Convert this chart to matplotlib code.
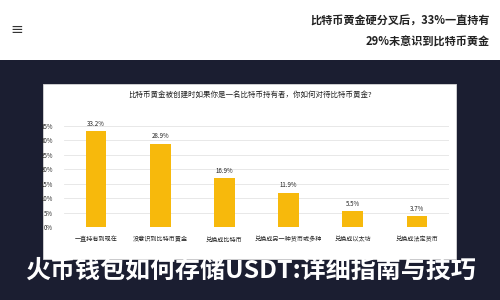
import matplotlib.pyplot as plt
from matplotlib.patches import Rectangle
from matplotlib.ticker import FuncFormatter

plt.rcParams['font.family'] = ['Noto Sans CJK SC', 'DejaVu Sans']

categories = ['一直持有到现在', '没意识到比特币黄金', '兑换成比特币',
              '兑换成另一种货币或多种', '兑换成以太坊', '兑换成法定货币']
shares = [33.2, 28.9, 16.9, 11.9, 5.5, 3.7]
y_ticks = [0, 5, 10, 15, 20, 25, 30, 35]

chart_title = '比特币黄金被创建时如果你是一名比特币持有者，你如何对待比特币黄金?'
header_lines = ['比特币黄金硬分叉后，33%一直持有', '29%未意识到比特币黄金']
caption = '火币钱包如何存储USDT:详细指南与技巧'

navy = '#1b1e31'
gold = '#f7b90c'

fig = plt.figure(figsize=(5, 3), dpi=100)
fig.patch.set_facecolor(navy)

# white header band and white chart card
fig.patches.append(Rectangle((0, 0.8), 1, 0.2, transform=fig.transFigure,
                             facecolor='white', edgecolor='none', zorder=-2))
fig.patches.append(Rectangle((0.086, 0.137), 0.826, 0.583, transform=fig.transFigure,
                             facecolor='white', edgecolor='#d8d8d8', lw=0.6, zorder=-2))

fig.text(0.034, 0.903, '≡', fontsize=11, color='#333333', ha='center', va='center',
         family=['DejaVu Sans'])
fig.text(0.98, 0.93, header_lines[0], fontsize=8, fontweight='bold', color='#222222',
         ha='right', va='center')
fig.text(0.98, 0.86, header_lines[1], fontsize=8, fontweight='bold', color='#222222',
         ha='right', va='center')

ax = fig.add_axes([0.128, 0.243, 0.77, 0.337])
ax.set_zorder(2)
ax.set_facecolor('white')
x = range(len(categories))
bars = ax.bar(x, shares, width=0.32, color=gold, zorder=3)
for xi, v in zip(x, shares):
    ax.text(xi, v + 1.2, f'{v:.1f}%', ha='center', va='bottom', fontsize=4.4,
            color='#222222')

ax.set_xlim(-0.5, len(categories) - 0.5)
ax.set_ylim(0, 35)
ax.set_yticks(y_ticks)
ax.yaxis.set_major_formatter(FuncFormatter(lambda v, p: f'{v:.0f}%'))
ax.set_xticks(list(x))
ax.set_xticklabels(categories)
ax.tick_params(axis='both', length=0, labelsize=4.4, colors='#222222')
ax.tick_params(axis='y', pad=8)
ax.tick_params(axis='x', pad=6)
ax.grid(axis='y', color='#e4e4e4', lw=0.6, zorder=0)
for s in ax.spines.values():
    s.set_visible(False)

fig.text(0.5, 0.683, chart_title, fontsize=5.4, color='#222222', ha='center', va='center')

fig.text(0.5, 0.093, caption, fontsize=18, fontweight='bold', color='white',
         ha='center', va='center')

fig.savefig('out.png', dpi=100, facecolor=fig.get_facecolor())
